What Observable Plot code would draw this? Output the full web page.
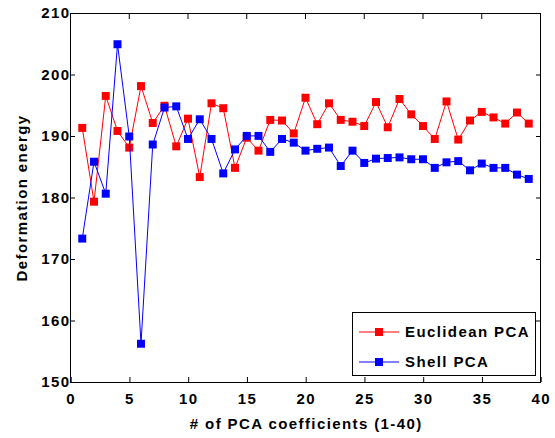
<!DOCTYPE html>
<html>
<head>
<meta charset="utf-8">
<script src="https://cdn.jsdelivr.net/npm/d3@7"></script>
<script src="https://cdn.jsdelivr.net/npm/@observablehq/plot@0.6"></script>
<style>
  html, body { margin: 0; padding: 0; background: #fff; }
  #wrap { position: relative; width: 555px; height: 438px; }
  #wrap svg { font-family: "Liberation Sans", Arial, sans-serif; }
  #wrap svg text { letter-spacing: 1.4px; }
  .legend {
    position: absolute; left: 352px; top: 312px; width: 184px; height: 64px;
    border: 1px solid #000; background: #fff; box-sizing: border-box;
    font-family: "Liberation Sans", Arial, sans-serif; font-size: 15px; font-weight: bold; letter-spacing: 1.4px;
  }
  .legend .row { position: absolute; left: 5px; display: flex; align-items: center; line-height: 18px; }
  .legend .row span { margin-left: 5px; }
</style>
</head>
<body>
<div id="wrap"></div>
<script>
// Deformation energy for reconstructions using 1..39 PCA coefficients
const coeffs = d3.range(1, 40);
const euclidean = [
  191.4, 179.4, 196.6, 190.9, 188.2, 198.2, 192.2, 195.0, 188.4, 192.9,
  183.4, 195.4, 194.6, 184.9, 189.8, 187.7, 192.7, 192.6, 190.5, 196.3,
  192.0, 195.4, 192.7, 192.4, 191.7, 195.6, 191.5, 196.1, 193.6, 191.7,
  189.6, 195.7, 189.5, 192.6, 194.0, 193.1, 192.1, 193.9, 192.1
];
const shell = [
  173.4, 185.9, 180.7, 205.0, 190.0, 156.3, 188.7, 194.7, 194.9, 189.6,
  192.8, 189.6, 184.0, 187.9, 190.1, 190.1, 187.5, 189.6, 189.0, 187.7,
  188.0, 188.2, 185.2, 187.7, 185.7, 186.4, 186.5, 186.6, 186.3, 186.3,
  184.9, 185.8, 186.0, 184.5, 185.6, 184.9, 184.9, 183.8, 183.1
];
const seriesNames = ["Euclidean PCA", "Shell PCA"];
const seriesColors = ["#ff0000", "#0000ff"];
const xTicks = d3.range(0, 41, 5);
const yTicks = d3.range(150, 211, 10);

const rows = (vals) => coeffs.map((c, i) => ({c, v: vals[i]}));
const textStyle = {fontSize: 15, fontWeight: "bold", fill: "#000"};

function seriesMarks(data, color) {
  return [
    Plot.lineY(data, {x: "c", y: "v", stroke: color, strokeWidth: 1}),
    Plot.dot(data, {x: "c", y: "v", symbol: "square", r: 4.5, fill: color, stroke: "none"})
  ];
}

const chart = Plot.plot({
  width: 555,
  height: 438,
  marginLeft: 70,
  marginRight: 15,
  marginTop: 13,
  marginBottom: 56,
  style: {fontFamily: "Liberation Sans, Arial, sans-serif", color: "#000", background: "#fff"},
  x: {domain: [0, 40]},
  y: {domain: [150, 210]},
  marks: [
    Plot.frame({stroke: "#000"}),
    Plot.axisX(xTicks, {anchor: "bottom", tickSize: -5, tickPadding: 16, dx: 0.7, label: null, ...textStyle, tickFormat: d3.format("d")}),
    Plot.axisX(xTicks, {anchor: "top", tickSize: -5, text: null, label: null}),
    Plot.axisY(yTicks, {anchor: "left", tickSize: -5, tickPadding: 5, label: null, ...textStyle, tickFormat: d3.format("d")}),
    Plot.axisY(yTicks, {anchor: "right", tickSize: -5, text: null, label: null}),
    ...seriesMarks(rows(euclidean), seriesColors[0]),
    ...seriesMarks(rows(shell), seriesColors[1]),
    Plot.text(["# of PCA coefficients (1-40)"], {frameAnchor: "bottom", dy: 46, dx: 0.7, ...textStyle}),
    Plot.text(["Deformation energy"], {frameAnchor: "left", textAnchor: "middle", dx: -48, rotate: -90, ...textStyle})
  ]
});

const wrap = document.getElementById("wrap");
wrap.appendChild(chart);

// legend box in the lower-right corner of the axes
const legend = document.createElement("div");
legend.className = "legend";
seriesNames.forEach((name, i) => {
  const row = document.createElement("div");
  row.className = "row";
  row.style.top = (i === 0 ? 10 : 40) + "px";
  row.innerHTML =
    `<svg width="42" height="12"><line x1="1" x2="41" y1="6" y2="6" stroke="${seriesColors[i]}" stroke-width="1"/>` +
    `<rect x="17" y="2" width="8" height="8" fill="${seriesColors[i]}"/></svg><span>${name}</span>`;
  legend.appendChild(row);
});
wrap.appendChild(legend);
</script>
</body>
</html>
